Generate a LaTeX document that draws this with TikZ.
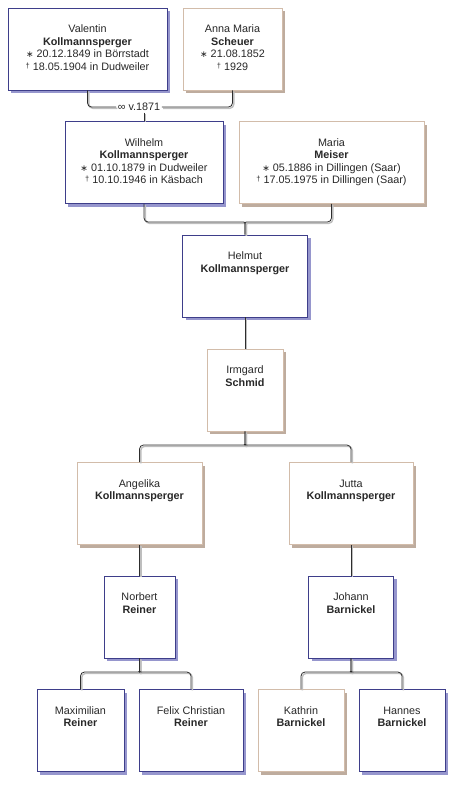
\documentclass[tikz,border=0pt]{standalone}
\usepackage{fontspec}
\setmainfont{Liberation Sans}
\newfontfamily\symfont{DejaVu Sans}
\usetikzlibrary{shadows}

\definecolor{malecol}{RGB}{62,62,138}
\definecolor{maleshadow}{RGB}{150,150,205}
\definecolor{femalecol}{RGB}{210,188,170}
\definecolor{femaleshadow}{RGB}{190,172,158}
\definecolor{textcol}{RGB}{40,40,40}
\definecolor{linecol}{RGB}{45,45,45}
\definecolor{lineshadow}{RGB}{190,190,190}

\newcommand{\born}{{\symfont\fontsize{9}{9}\selectfont ∗}}
\newcommand{\died}{\raisebox{0.35ex}{\fontsize{7.5}{8}\selectfont †}}

\begin{document}
\begin{tikzpicture}[x=1pt, y=-1pt,
    person/.style={rectangle, align=center, minimum height=82pt, inner sep=0pt, line width=0.8pt,
        fill=white, text=textcol, font=\fontsize{10.8}{12.5}\selectfont},
    male/.style={person, draw=malecol,
        drop shadow={shadow xshift=3pt, shadow yshift=-3pt, fill=maleshadow, opacity=1}},
    female/.style={person, draw=femalecol,
        drop shadow={shadow xshift=3pt, shadow yshift=-3pt, fill=femaleshadow, opacity=1}},
    link/.style={draw=linecol, line width=0.8pt, rounded corners=4pt,
        preaction={draw=lineshadow, line width=1.4pt, transform canvas={shift={(1.3pt,-1.3pt)}}}}]
        \useasboundingbox (0,0) rectangle (460,787);

        % ==== GRANDPARENTS ====
        \node[male, minimum width=159pt] (valentin) at (87.5,49)
            {\strut Valentin\\\textbf{Kollmannsperger}\\\born\ 20.12.1849 in Börrstadt\\\died\ 18.05.1904 in Dudweiler\strut};
        \node[female, minimum width=99pt] (anna) at (232.5,49)
            {\strut Anna Maria\\\textbf{Scheuer}\\\born\ 21.08.1852\\\died\ 1929\strut};

        % ==== PARENTS ====
        \node[male, minimum width=158pt] (wilhelm) at (144,162.5)
            {\strut Wilhelm\\\textbf{Kollmannsperger}\\\born\ 01.10.1879 in Dudweiler\\\died\ 10.10.1946 in Käsbach\strut};
        \node[female, minimum width=185pt] (maria) at (331.5,162.5)
            {\strut Maria\\\textbf{Meiser}\\\born\ 05.1886 in Dillingen (Saar)\\\died\ 17.05.1975 in Dillingen (Saar)\strut};

        % ==== HELMUT AND IRMGARD ====
        \node[male, minimum width=125pt] (helmut) at (245,276)
            {\strut Helmut\\\textbf{Kollmannsperger}\\\strut\\\strut};
        \node[female, minimum width=76pt] (irmgard) at (245,390)
            {\strut Irmgard\\\textbf{Schmid}\\\strut\\\strut};

        % ==== DAUGHTERS ====
        \node[female, minimum width=125pt] (angelika) at (139.5,503.5)
            {\strut Angelika\\\textbf{Kollmannsperger}\\\strut\\\strut};
        \node[female, minimum width=124pt] (jutta) at (351,503.5)
            {\strut Jutta\\\textbf{Kollmannsperger}\\\strut\\\strut};

        % ==== SONS IN LAW ====
        \node[male, minimum width=71pt] (norbert) at (139.5,617)
            {\strut Norbert\\\textbf{Reiner}\\\strut\\\strut};
        \node[male, minimum width=85pt] (johann) at (351,617)
            {\strut Johann\\\textbf{Barnickel}\\\strut\\\strut};

        % ==== GRANDCHILDREN ====
        \node[male, minimum width=87pt] (maximilian) at (80.5,730.5)
            {\strut Maximilian\\\textbf{Reiner}\\\strut\\\strut};
        \node[male, minimum width=104pt] (felix) at (191,730.5)
            {\strut Felix Christian\\\textbf{Reiner}\\\strut\\\strut};
        \node[female, minimum width=86pt] (kathrin) at (301,730.5)
            {\strut Kathrin\\\textbf{Barnickel}\\\strut\\\strut};
        \node[male, minimum width=86pt] (hannes) at (402,730.5)
            {\strut Hannes\\\textbf{Barnickel}\\\strut\\\strut};

        % ==== MARRIAGE VALENTIN - ANNA ====
        \node[fill=white, inner sep=1.5pt, text=textcol, font=\fontsize{10.8}{12.5}\selectfont] (wed) at (139,107) {∞ v.1871};
        \draw[link] (valentin.south) |- (wed.west);
        \draw[link] (anna.south) |- (wed.east);
        \draw[link] (wed.south -| wilhelm.north) -- (wilhelm.north);

        % ==== WILHELM AND MARIA TO HELMUT ====
        \draw[link] (wilhelm.south) |- (240,222) .. controls (243.5,222) and (245,223) .. (245,227) -- (helmut.north);
        \draw[link] (maria.south) |- (250,222) .. controls (246.5,222) and (245,223) .. (245,227) -- (helmut.north);

        % ==== HELMUT TO IRMGARD ====
        \draw[link] (helmut.south) -- (irmgard.north);

        % ==== IRMGARD TO DAUGHTERS ====
        \draw[link] (irmgard.south) -- (245,441) .. controls (245,444) and (243.5,445) .. (240,445) -| (angelika.north);
        \draw[link] (irmgard.south) -- (245,441) .. controls (245,444) and (246.5,445) .. (250,445) -| (jutta.north);

        % ==== DAUGHTERS TO SONS IN LAW ====
        \draw[link] (angelika.south) -- (norbert.north);
        \draw[link] (jutta.south) -- (johann.north);

        % ==== NORBERT TO CHILDREN ====
        \draw[link] (norbert.south) -- (139.5,668) .. controls (139.5,671) and (138,672) .. (134.5,672) -| (maximilian.north);
        \draw[link] (norbert.south) -- (139.5,668) .. controls (139.5,671) and (141,672) .. (144.5,672) -| (felix.north);

        % ==== JOHANN TO CHILDREN ====
        \draw[link] (johann.south) -- (351,668) .. controls (351,671) and (349.5,672) .. (346,672) -| (kathrin.north);
        \draw[link] (johann.south) -- (351,668) .. controls (351,671) and (352.5,672) .. (356,672) -| (hannes.north);
    \end{tikzpicture}
\end{document}
